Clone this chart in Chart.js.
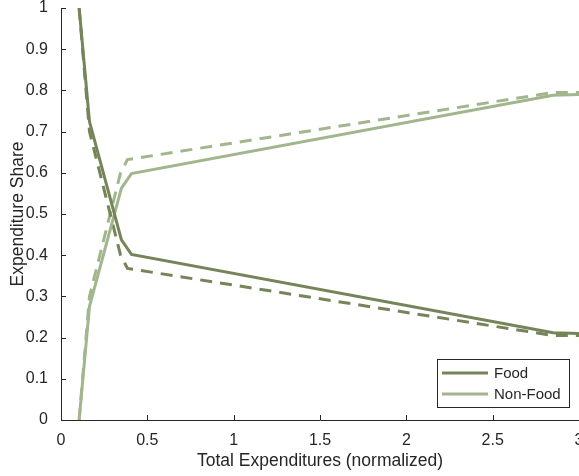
<!DOCTYPE html>
<html>
<head>
<meta charset="utf-8">
<script src="https://cdn.jsdelivr.net/npm/chart.js@4/dist/chart.umd.min.js"></script>
<style>
  html, body { margin: 0; padding: 0; background: #fff; }
</style>
</head>
<body>
<canvas id="shareChart" width="579" height="476"></canvas>
<script>
// total expenditures (normalized) and expenditure shares
const xSolid = [0.105, 0.165, 0.35, 0.408, 2.85, 3.0];
const foodSolid = [1.0, 0.724, 0.437, 0.402, 0.212, 0.21];
const nonFoodSolid = [0.0, 0.276, 0.563, 0.598, 0.788, 0.79];

const xDashed = [0.105, 0.165, 0.345, 0.385, 2.85, 3.0];
const foodDashed = [1.0, 0.70, 0.40, 0.368, 0.205, 0.205];
const nonFoodDashed = [0.0, 0.30, 0.60, 0.632, 0.795, 0.795];

const legendLabels = ["Food", "Non-Food"];

const darkGreen = "#76845a";
const lightGreen = "#a2b68e";
const axisColor = "#262626";
const textColor = "#262626";
const fontFamily = "'Liberation Sans', Arial, Helvetica, sans-serif";

function toPoints(xs, ys) {
  return xs.map((x, i) => ({ x: x, y: ys[i] }));
}

function shortNum(v) {
  return String(Number(v.toFixed(2)));
}

// MATLAB-like ticks pointing into the plot
const innerTicks = {
  id: "innerTicks",
  afterDraw(chart) {
    const { ctx, chartArea, scales } = chart;
    ctx.save();
    ctx.strokeStyle = axisColor;
    ctx.lineWidth = 1;
    ctx.beginPath();
    scales.x.ticks.forEach((t) => {
      const px = Math.round(scales.x.getPixelForValue(t.value)) + 0.5;
      ctx.moveTo(px, chartArea.bottom);
      ctx.lineTo(px, chartArea.bottom - 5);
    });
    scales.y.ticks.forEach((t) => {
      const py = Math.round(scales.y.getPixelForValue(t.value)) + 0.5;
      ctx.moveTo(chartArea.left, py);
      ctx.lineTo(chartArea.left + 5, py);
    });
    ctx.stroke();
    ctx.restore();
  },
};

// boxed legend in the lower right corner of the plot
const boxLegend = {
  id: "boxLegend",
  afterDraw(chart) {
    const { ctx, chartArea } = chart;
    const w = 132, h = 48;
    const x0 = chartArea.right - 10 - w;
    const y0 = chartArea.bottom - 13 - h;
    ctx.save();
    ctx.fillStyle = "#fff";
    ctx.fillRect(x0, y0, w, h);
    ctx.strokeStyle = axisColor;
    ctx.lineWidth = 1;
    ctx.strokeRect(Math.round(x0) + 0.5, Math.round(y0) + 0.5, w, h);
    ctx.font = "15px " + fontFamily;
    ctx.textBaseline = "middle";
    legendLabels.forEach((label, i) => {
      const ds = chart.data.datasets[i];
      const y = y0 + 14 + i * 21;
      ctx.strokeStyle = ds.borderColor;
      ctx.lineWidth = 3;
      ctx.beginPath();
      ctx.moveTo(x0 + 5, y);
      ctx.lineTo(x0 + 51, y);
      ctx.stroke();
      ctx.fillStyle = textColor;
      ctx.fillText(label, x0 + 57, y + 1);
    });
    ctx.restore();
  },
};

const ctx = document.getElementById("shareChart").getContext("2d");
new Chart(ctx, {
  type: "line",
  data: {
    datasets: [
      {
        label: "Food",
        data: toPoints(xSolid, foodSolid),
        borderColor: darkGreen,
        borderWidth: 3,
      },
      {
        label: "Non-Food",
        data: toPoints(xSolid, nonFoodSolid),
        borderColor: lightGreen,
        borderWidth: 3,
      },
      {
        label: "Food (dashed)",
        data: toPoints(xDashed, foodDashed),
        borderColor: darkGreen,
        borderWidth: 3,
        borderDash: [12, 8],
      },
      {
        label: "Non-Food (dashed)",
        data: toPoints(xDashed, nonFoodDashed),
        borderColor: lightGreen,
        borderWidth: 3,
        borderDash: [12, 8],
      },
    ],
  },
  options: {
    responsive: false,
    animation: false,
    layout: { padding: { top: 8, left: 0, right: 0, bottom: 0 } },
    elements: { point: { radius: 0 }, line: { tension: 0 } },
    scales: {
      x: {
        type: "linear",
        min: 0,
        max: 3,
        grid: { display: false, drawTicks: false },
        border: { display: true, color: axisColor, width: 1 },
        ticks: {
          stepSize: 0.5,
          padding: 11,
          maxRotation: 0,
          color: textColor,
          font: { family: fontFamily, size: 16 },
          callback: (v) => shortNum(v),
        },
        title: {
          display: true,
          text: "Total Expenditures (normalized)",
          color: textColor,
          font: { family: fontFamily, size: 17.5 },
          padding: { top: 0, bottom: 4 },
        },
        afterFit(scale) {
          scale.height = 56;
          scale.paddingLeft = 0;
          scale.paddingRight = 0;
        },
      },
      y: {
        min: 0,
        max: 1,
        grid: { display: false, drawTicks: false },
        border: { display: true, color: axisColor, width: 1 },
        ticks: {
          stepSize: 0.1,
          padding: 13,
          color: textColor,
          font: { family: fontFamily, size: 16 },
          callback: (v) => shortNum(v),
        },
        title: {
          display: true,
          text: "Expenditure Share",
          color: textColor,
          font: { family: fontFamily, size: 17.5 },
          padding: { top: 8, bottom: 0 },
        },
        afterFit(scale) {
          scale.width = 61;
          scale.paddingTop = 0;
          scale.paddingBottom = 0;
        },
      },
    },
    plugins: {
      legend: { display: false },
      tooltip: { enabled: false },
    },
  },
  plugins: [innerTicks, boxLegend],
});
</script>
</body>
</html>
